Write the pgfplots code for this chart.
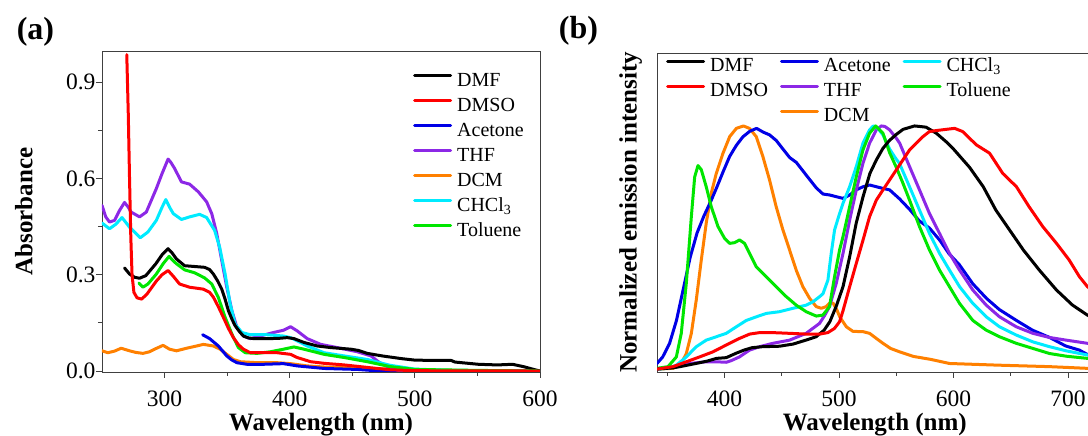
\documentclass[border=0pt]{standalone}
\usepackage{fontspec}
\setmainfont{Liberation Serif}
\usepackage{pgfplots}
\pgfplotsset{compat=1.18}

\definecolor{cblack}{RGB}{0,0,0}
\definecolor{cred}{RGB}{255,0,0}
\definecolor{cblue}{RGB}{0,0,230}
\definecolor{cpurple}{RGB}{140,40,230}
\definecolor{corange}{RGB}{255,128,0}
\definecolor{ccyan}{RGB}{0,235,255}
\definecolor{cgreen}{RGB}{0,230,0}

\pgfplotsset{
  mystyle/.style={
    scale only axis,
    axis line style={line width=0.9pt, black!75},
    every tick/.style={line width=0.9pt, black!75},
    tick align=outside,
    major tick length=6pt,
    minor tick length=4pt,
    xtick pos=bottom, ytick pos=left,
    tick label style={font=\rmfamily\fontsize{23.5}{28}\selectfont},
    xticklabel style={inner sep=0pt, yshift=-13pt},
    yticklabel style={xshift=3pt},
    label style={font=\rmfamily\bfseries\fontsize{25}{30}\selectfont, inner sep=0pt},
    /pgf/number format/assume math mode=true,
    every axis plot/.append style={line width=3pt, line join=round, line cap=round},
    legend image code/.code={\draw[line width=3pt,#1] (0pt,6pt) -- (36pt,6pt);},
    legend cell align=left,
    legend style={draw=none, fill=none, inner sep=0pt,
      font=\rmfamily\fontsize{20}{24}\selectfont,
      nodes={inner sep=0pt, text height=13pt, text depth=4pt, font=\rmfamily\fontsize{20}{24}\selectfont},
      row sep=8pt,
      /tikz/every odd column/.append style={column sep=5pt},
      /tikz/every even column/.append style={column sep=12pt}},
  }
}

\begin{document}
\begin{tikzpicture}
\useasboundingbox (0,0) rectangle (1088pt,436pt);
\clip (0,0) rectangle (1088pt,436pt);

\node[font=\rmfamily\bfseries\fontsize{32}{36}\selectfont] at (35.5pt,404pt) {(a)};
\node[font=\rmfamily\bfseries\fontsize{32}{36}\selectfont] at (578.5pt,405pt) {(b)};

% ---------------- panel (a) ----------------
\begin{axis}[mystyle,
  at={(102pt,64pt)}, anchor=south west,
  width=438pt, height=321pt,
  xmin=250, xmax=600, ymin=-0.003, ymax=0.9966,
  xtick={300,400,500,600}, minor x tick num=1,
  ytick={0,0.3,0.6,0.9}, minor y tick num=1,
  yticklabel style={/pgf/number format/.cd, fixed, fixed zerofill, precision=1},
  xlabel={Wavelength (nm)}, ylabel={Absorbance},
  xlabel style={at={([yshift=-59pt]axis description cs:0.5,0)}, anchor=base},
  ylabel style={at={([xshift=-69.5pt]axis description cs:0,0.5)}, anchor=base},
  legend style={at={([xshift=311pt,yshift=-22pt]axis description cs:0,1)}, anchor=north west},
]
\addlegendimage{cblack}\addlegendentry{DMF}
\addlegendimage{cred}\addlegendentry{DMSO}
\addlegendimage{cblue}\addlegendentry{Acetone}
\addlegendimage{cpurple}\addlegendentry{THF}
\addlegendimage{corange}\addlegendentry{DCM}
\addlegendimage{ccyan}\addlegendentry{CHCl\textsubscript{3}}
\addlegendimage{cgreen}\addlegendentry{Toluene}

% DCM
\addplot[corange, forget plot] coordinates {
(250,0.063)(254.6,0.057)(260,0.062)(265.3,0.071)(272,0.063)(277,0.058)(282.7,0.055)
(288,0.060)(292,0.068)(298.8,0.080)(304,0.068)(309.5,0.063)(317.6,0.071)(325.6,0.078)
(331,0.083)(339,0.078)(344.4,0.068)(349.7,0.052)(355,0.036)(360.5,0.029)(373.9,0.026)
(390,0.026)(400.7,0.023)(414,0.016)(427.5,0.0125)(454,0.010)(480,0.006)(500,0.003)
(550,0.001)(600,0.0)};
% Acetone
\addplot[cblue, forget plot] coordinates {
(330.4,0.113)(336,0.101)(343,0.078)(349.7,0.047)(353.5,0.035)(357.8,0.026)(365.8,0.021)
(379,0.021)(395,0.023)(406,0.016)(427.5,0.008)(454,0.005)(465,0.002)(480,0.0)(600,0.0)};
% THF
\addplot[cpurple, forget plot] coordinates {
(250,0.516)(253,0.480)(256,0.464)(260,0.469)(264,0.500)(268,0.525)(271,0.510)(273.3,0.495)
(280,0.480)(285.4,0.495)(293.4,0.568)(298,0.615)(302.8,0.660)(305,0.650)(308,0.631)
(313.5,0.589)(320,0.582)(327,0.558)(333.6,0.527)(337.7,0.490)(341.7,0.428)(345.7,0.344)
(349.7,0.261)(353.8,0.188)(357.8,0.136)(363,0.109)(368.5,0.101)(376.5,0.109)(387,0.120)
(395,0.127)(400.7,0.138)(406,0.125)(414,0.101)(424.8,0.083)(438,0.073)(454,0.060)
(465,0.047)(471.5,0.027)(480,0.010)(487,0.002)(500,0.0)(600,0.0)};
% CHCl3
\addplot[ccyan, forget plot] coordinates {
(250,0.461)(256,0.443)(261,0.457)(266,0.478)(272,0.448)(280.6,0.415)(286.7,0.433)
(293.4,0.469)(298,0.510)(301,0.534)(304,0.510)(307,0.490)(313.5,0.472)(320,0.480)
(328,0.488)(333.6,0.478)(340,0.438)(344,0.386)(348.4,0.302)(352.4,0.209)(356.4,0.146)
(361.8,0.120)(368.5,0.113)(381.9,0.113)(395,0.109)(400.7,0.104)(406,0.094)(414,0.078)
(427.5,0.057)(443.6,0.047)(462,0.036)(480,0.018)(500,0.006)(530,0.002)(600,0.0)};
% DMF
\addplot[cblack, forget plot] coordinates {
(268,0.321)(272,0.302)(276,0.292)(280,0.289)(285,0.297)(293,0.334)(298,0.362)(302.8,0.381)
(306,0.368)(309.5,0.349)(316,0.328)(325.6,0.325)(332,0.323)(336,0.316)(339,0.302)
(342.5,0.280)(345.7,0.255)(348.5,0.222)(351,0.188)(354,0.160)(356.4,0.141)(360,0.122)
(363,0.109)(367,0.103)(371,0.101)(384.6,0.101)(392,0.102)(398,0.104)(403.4,0.101)
(411.4,0.089)(422,0.078)(432.8,0.073)(449,0.068)(455,0.064)(462,0.055)(474,0.047)
(489.6,0.0385)(500,0.034)(515,0.033)(529,0.033)(532,0.028)(550.8,0.021)(566,0.019)
(578,0.021)(587,0.0135)(595,0.005)(600,0.0)};
% Toluene
\addplot[cgreen, forget plot] coordinates {
(279.5,0.274)(282.7,0.261)(286.7,0.271)(293.4,0.302)(299,0.335)(303.6,0.357)(306.5,0.345)
(309.5,0.334)(316,0.315)(324,0.306)(332,0.290)(337.7,0.271)(343,0.229)(348.4,0.167)
(353.8,0.115)(359,0.073)(364.5,0.057)(373.9,0.055)(384.6,0.060)(395,0.068)(403.4,0.075)
(411.4,0.068)(427.5,0.052)(443.6,0.042)(462,0.029)(480,0.014)(500,0.005)(550,0.002)(600,0.0)};
% DMSO
\addplot[cred, forget plot] coordinates {
(269.8,0.985)(271,0.80)(272,0.60)(273,0.42)(274,0.30)(275.5,0.245)(278,0.228)(281.7,0.224)
(286,0.240)(293.4,0.280)(298,0.300)(302.8,0.313)(307,0.295)(312,0.271)(320,0.261)
(331,0.255)(336,0.245)(339,0.230)(343,0.200)(347,0.167)(351,0.133)(355,0.104)(359,0.082)
(363,0.068)(368.5,0.057)(379,0.057)(390,0.057)(400.7,0.052)(406,0.042)(416.8,0.029)
(427.5,0.024)(443.6,0.019)(465,0.010)(480,0.004)(500,0.001)(600,0.0)};
\end{axis}

% ---------------- panel (b) ----------------
\begin{axis}[mystyle,
  at={(657pt,64pt)}, anchor=south west,
  width=445.3pt, height=319pt,
  xmin=341, xmax=730, ymin=-0.012, ymax=1.30,
  xtick={400,500,600,700}, minor xtick={350,450,550,650},
  ytick=\empty,
  xlabel={Wavelength (nm)}, ylabel={Normalized emission intensity},
  xlabel style={at={([xshift=217.8pt,yshift=-59pt]axis description cs:0,0)}, anchor=base},
  ylabel style={at={([xshift=-20.5pt]axis description cs:0,0.5)}, anchor=base},
  legend columns=3,
  legend style={at={([xshift=9pt,yshift=-5.5pt]axis description cs:0,1)}, anchor=north west},
]
\addlegendimage{cblack}\addlegendentry{DMF}
\addlegendimage{cblue}\addlegendentry{Acetone}
\addlegendimage{ccyan}\addlegendentry{CHCl\textsubscript{3}}
\addlegendimage{cred}\addlegendentry{DMSO}
\addlegendimage{cpurple}\addlegendentry{THF}
\addlegendimage{cgreen}\addlegendentry{Toluene}
\addlegendimage{empty legend}\addlegendentry{\phantom{DMSO}}
\addlegendimage{corange}\addlegendentry{DCM}

% DCM
\addplot[corange, forget plot] coordinates {
(341,0.0)(355,0.003)(362.2,0.023)(366.6,0.064)(371,0.147)(375.3,0.284)(379.7,0.449)
(384,0.600)(388.4,0.723)(392.8,0.805)(398.6,0.887)(404.5,0.956)(410.3,0.990)(416.5,1.0)
(421.8,0.990)(427.7,0.956)(433.5,0.874)(439.3,0.778)(445.1,0.668)(451,0.572)(456.8,0.490)
(462.6,0.407)(468.4,0.339)(474.3,0.291)(480.1,0.257)(484.5,0.250)(488.8,0.257)(492.5,0.275)
(495,0.270)(498,0.245)(500.6,0.215)(506.4,0.174)(512.2,0.155)(520.9,0.154)(526.7,0.147)
(532.6,0.126)(538.4,0.106)(545,0.085)(552.9,0.071)(565,0.052)(580,0.040)(596.5,0.023)
(640,0.016)(684,0.010)(717,0.003)(730,0.003)};
% Acetone
\addplot[cblue, forget plot] coordinates {
(341,0.023)(346,0.050)(352,0.106)(358,0.200)(364,0.330)(370,0.460)(376,0.560)(382,0.630)
(388,0.690)(393,0.745)(398.6,0.810)(404.5,0.875)(410.3,0.920)(416,0.955)(422,0.978)
(428,0.990)(433.6,0.975)(439.4,0.963)(445.2,0.940)(451,0.905)(456.9,0.870)(462.7,0.850)
(468.5,0.815)(474.3,0.780)(480.2,0.745)(486,0.720)(491.8,0.716)(497.6,0.709)(503.5,0.702)
(509.3,0.716)(515.1,0.737)(521,0.750)(526.8,0.757)(532.6,0.750)(538.4,0.743)(544.2,0.737)
(552.9,0.700)(562,0.655)(570,0.610)(579,0.580)(588,0.530)(596,0.475)(605,0.430)(617,0.350)
(629,0.290)(640,0.245)(655,0.200)(669,0.160)(684,0.130)(698,0.095)(710,0.078)(717,0.060)(730,0.050)};
% THF
\addplot[cpurple, forget plot] coordinates {
(341,0.0)(355,0.010)(369.5,0.023)(384,0.030)(392.8,0.030)(401.5,0.028)(406,0.035)(413,0.050)
(421.8,0.078)(430.6,0.092)(442.2,0.106)(456.8,0.119)(471.3,0.147)(483,0.188)(487.4,0.220)
(491.7,0.257)(497.6,0.353)(503.5,0.476)(509.3,0.613)(515.1,0.737)(520.9,0.846)(526.7,0.929)
(532.6,0.984)(537,1.0)(540,0.998)(544.2,0.984)(550,0.950)(553,0.929)(561.6,0.833)
(570.3,0.737)(579,0.640)(587.8,0.558)(596.5,0.476)(605.3,0.407)(616.9,0.325)(628.6,0.263)
(640.2,0.215)(654.8,0.174)(669.3,0.147)(683.9,0.130)(698.5,0.119)(717,0.106)(730,0.100)};
% CHCl3
\addplot[ccyan, forget plot] coordinates {
(341,0.0)(350.6,0.003)(357.9,0.016)(366.6,0.050)(375.3,0.092)(384,0.119)(392.8,0.133)
(401.5,0.147)(410.3,0.174)(419,0.200)(427.8,0.215)(436.5,0.229)(448,0.236)(459.8,0.250)
(471.4,0.263)(477.3,0.277)(483.1,0.298)(486,0.310)(490.3,0.366)(493.2,0.476)(496.1,0.572)
(500.5,0.640)(503.5,0.682)(509.3,0.750)(515.1,0.833)(520.9,0.929)(526.7,0.984)(530,1.0)
(534,0.990)(538.4,0.963)(544.2,0.905)(549,0.870)(552.9,0.845)(561.6,0.750)(570.3,0.654)
(579,0.558)(587.8,0.476)(596.5,0.407)(605.3,0.339)(616.9,0.270)(628.6,0.215)(640.2,0.174)
(654.8,0.140)(669.3,0.112)(683.9,0.092)(698.5,0.075)(717,0.058)(730,0.050)};
% Toluene
\addplot[cgreen, forget plot] coordinates {
(341,0.003)(350.6,0.010)(357.9,0.050)(362.2,0.147)(366.6,0.353)(371,0.627)(373.9,0.790)
(376.8,0.837)(379.7,0.820)(384,0.750)(388.4,0.668)(394.3,0.586)(400,0.538)(404.5,0.517)
(408.8,0.520)(413.1,0.531)(417.5,0.517)(421.8,0.476)(427.7,0.421)(436.4,0.380)(445.1,0.339)
(453.9,0.298)(462.6,0.263)(471.3,0.236)(480.1,0.218)(485.9,0.222)(491.7,0.257)(496.1,0.380)
(500.5,0.490)(503.5,0.545)(509.3,0.668)(515.1,0.791)(520.9,0.901)(526.7,0.970)(532,1.0)
(538.4,0.970)(544.2,0.890)(550,0.830)(555.8,0.765)(561.6,0.695)(570.3,0.586)(579,0.490)
(587.8,0.407)(596.5,0.339)(605.3,0.270)(616.9,0.200)(628.6,0.160)(640.2,0.133)(654.8,0.106)
(669.3,0.085)(683.9,0.064)(698.5,0.053)(717,0.044)(730,0.040)};
% DMF
\addplot[cblack, forget plot] coordinates {
(341,0.0)(355,0.005)(361,0.010)(375,0.023)(385,0.033)(393,0.044)(401.5,0.047)(410,0.065)
(417,0.078)(424,0.088)(433,0.092)(448,0.094)(460,0.103)(471,0.119)(480,0.133)(487,0.160)
(492,0.195)(497.7,0.260)(503.5,0.339)(509.3,0.462)(515,0.600)(521,0.709)(527,0.805)
(532.6,0.860)(538.4,0.908)(544,0.940)(550,0.965)(556,0.986)(566,1.0)(576,0.995)(585,0.970)
(593.6,0.935)(600,0.905)(614,0.830)(626,0.750)(637,0.654)(649,0.572)(661,0.490)(675,0.407)
(690,0.325)(704,0.263)(717,0.222)(730,0.190)};
% DMSO
\addplot[cred, forget plot] coordinates {
(341,0.0)(355,0.010)(366.6,0.030)(378.2,0.050)(389.9,0.071)(401.5,0.099)(413,0.126)
(422,0.144)(430.6,0.150)(442,0.150)(457,0.147)(471,0.144)(483,0.144)(490.3,0.150)(496,0.167)
(500.5,0.195)(503.5,0.240)(509.3,0.339)(515.1,0.435)(521,0.531)(526.7,0.627)(532.6,0.695)
(538.4,0.737)(544.2,0.778)(550,0.819)(555.8,0.860)(561.6,0.901)(567.4,0.929)(573.3,0.956)
(579,0.977)(585,0.981)(593.6,0.986)(601,0.990)(608,0.977)(620,0.922)(631.5,0.888)
(643,0.805)(655,0.750)(666,0.668)(678,0.586)(690,0.517)(701,0.449)(710,0.380)(717,0.339)(730,0.290)};
\end{axis}
\end{tikzpicture}
\end{document}
